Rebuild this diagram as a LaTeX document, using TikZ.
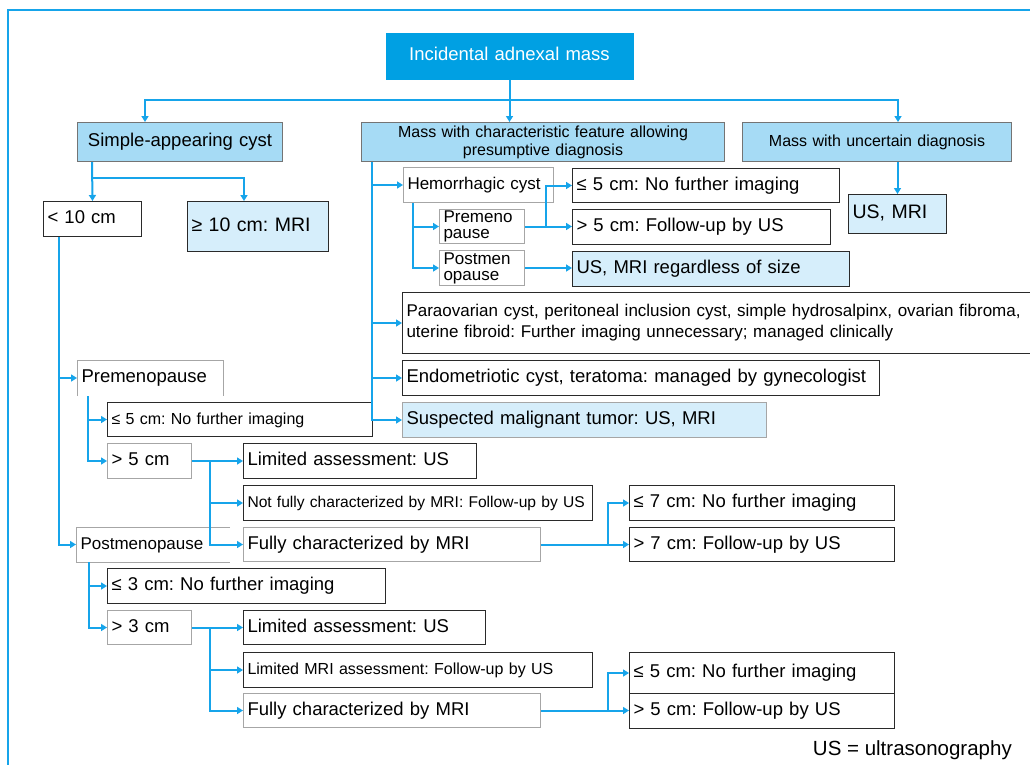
\documentclass[tikz,border=0pt]{standalone}
\usepackage{fontspec}
\setmainfont{Liberation Sans}
\usepackage{tikz}
\usetikzlibrary{arrows.meta,positioning,calc}
\frenchspacing
\definecolor{head}{HTML}{00A0E3}
\definecolor{branch}{HTML}{A6DBF5}
\definecolor{result}{HTML}{D6EEFB}
\definecolor{flow}{HTML}{16A4EA}
\definecolor{rim}{HTML}{2A2A2A}
\definecolor{soft}{HTML}{A6A6A6}
\tikzset{
  box/.style={draw=rim, line width=1pt, fill=white, inner xsep=4pt, inner ysep=0pt, align=left,
    text height=13, text depth=4, font=\fontsize{18.5}{21}\selectfont},
  light/.style={draw=soft},
  hit/.style={fill=result},
  group/.style={box, fill=branch, draw=soft!70!black, align=center},
  big/.style={font=\fontsize{19.5}{22}\selectfont},
  small/.style={font=\fontsize{16}{18}\selectfont},
  mid/.style={font=\fontsize{17}{21}\selectfont},
  tight/.style={font=\fontsize{17}{16}\selectfont},
  twoline/.style={text height=, text depth=},
  wire/.style={draw=flow, line width=2pt},
  arr/.style={wire, -{Triangle[length=6pt,width=7pt]}},
  outline/.style={draw=soft, line width=1pt},
}
\newcommand{\bx}[6][]{\node[box, #1, anchor=north west, minimum width=#4, minimum height=#5, text width=#4-8] (#2) at (#3) {#6};}

\begin{document}
\begin{tikzpicture}[x=1pt,y=-1pt]
  \useasboundingbox (0,0) rectangle (1030,764);
  \draw[wire] (8,780) -- (8,10) -- (1040,10);

  \bx[draw=none, fill=head, text=white, align=center]{top}{385,32}{248}{47}{Incidental adnexal mass}
  \bx[group]{simple}{77,122}{205}{39}{Simple-appearing cyst}
  \bx[group, small, twoline]{mchar}{361,122}{363}{39}{Mass with characteristic feature allowing\\presumptive diagnosis}
  \bx[group, small]{muncert}{742,122}{269}{39}{Mass with uncertain diagnosis}
  \bx[hit, big]{usmri}{848,194}{98}{39}{US, MRI}
  \bx{lt10}{43,201}{98}{35}{< 10 cm}
  \bx[hit, big]{ge10}{187,201}{141}{50}{≥ 10 cm: MRI}

  \bx[light, mid]{hemo}{403,167}{150}{35}{Hemorrhagic cyst}
  \bx{hle5}{572,168}{267}{34}{≤ 5 cm: No further imaging}
  \bx{hgt5}{572,209}{258}{35}{> 5 cm: Follow-up by US}
  \bx[light, tight, twoline]{hpre}{439,209}{85}{34}{Premeno\\pause}
  \bx[light, tight, twoline]{hpost}{439,250}{85}{35}{Postmen\\opause}
  \bx[hit]{hres}{572,251}{277}{35}{US, MRI regardless of size}
  \bx[mid, twoline]{para}{402,292}{630}{61}{Paraovarian cyst, peritoneal inclusion cyst, simple hydrosalpinx, ovarian fibroma,\\uterine fibroid: Further imaging unnecessary; managed clinically}
  \bx{endo}{402,360}{477}{35}{Endometriotic cyst, teratoma: managed by gynecologist}
  \bx[hit, light]{susp}{402,402}{364}{35}{Suspected malignant tumor: US, MRI}

  \bx[draw=none]{prem}{77,360}{145}{35}{Premenopause}
  \bx[small]{ple5}{107,402}{265}{34}{≤ 5 cm: No further imaging}
  \bx[light]{pgt5}{107,443}{84}{35}{> 5 cm}
  \bx{plim}{243,443}{233}{35}{Limited assessment: US}
  \bx[font=\fontsize{15.6}{18}\selectfont]{pnot}{243,485}{349}{35}{Not fully characterized by MRI: Follow-up by US}
  \bx[light]{pfull}{243,527}{297}{34}{Fully characterized by MRI}
  \bx[draw=none, mid]{post}{76,527}{153}{34}{Postmenopause}
  \bx{qle3}{107,568}{278}{35}{≤ 3 cm: No further imaging}
  \bx[light]{qgt3}{107,610}{84}{34}{> 3 cm}
  \bx{qlim}{243,610}{242}{34}{Limited assessment: US}
  \bx[small]{qmri}{243,652}{349}{35}{Limited MRI assessment: Follow-up by US}
  \bx[light]{qfull}{243,693}{297}{34}{Fully characterized by MRI}

  \bx{r7le}{629,485}{265}{35}{≤ 7 cm: No further imaging}
  \bx{r7gt}{629,527}{265}{34}{> 7 cm: Follow-up by US}
  \bx{r5le}{629,652}{265}{41}{≤ 5 cm: No further imaging}
  \bx{r5gt}{629,693}{265}{35}{> 5 cm: Follow-up by US}

  \node[anchor=base east, inner sep=0pt, font=\fontsize{20.5}{23}\selectfont] (legend) at (1012,755) {US = ultrasonography};

  \draw[outline] (prem.south west) -- (prem.north west) -- (prem.north east) -- (prem.south east);
  \draw[outline] (post.north east) -- (post.north west) -- (post.south west) -- (post.south east);

  % top level
  \coordinate (bus) at (509,100);
  \draw[arr] (top.south) -- (top.south |- mchar.north);
  \draw[arr] (bus) -| ([xshift=68]simple.north west);
  \draw[arr] (bus) -| ([xshift=156]muncert.north west);
  \draw[arr] (muncert.south -| usmri.north) -- (usmri.north);

  % simple-appearing cyst
  \coordinate (sj) at (92,178);
  \draw[arr] ([xshift=15]simple.south west) -- (lt10.north);
  \draw[arr] (sj) -| ([xshift=57]ge10.north west);
  \draw[arr] ([xshift=16]lt10.south west) |- (prem.west);
  \draw[arr] ([xshift=16]lt10.south west) |- (post.west);

  \draw[arr] ([xshift=11]prem.south west) |- (ple5.west);
  \draw[arr] ([xshift=11]prem.south west) |- (pgt5.west);
  \draw[arr] (pgt5.east) -- (plim.west);
  \draw[arr] ([xshift=18]pgt5.east) |- (pnot.west);
  \draw[arr] ([xshift=18]pgt5.east) |- (pfull.west);
  \draw[arr] (pfull.east) -- (pfull.east -| r7gt.west);
  \draw[arr] ([xshift=67]pfull.east) |- (r7le.west);

  \draw[arr] ([xshift=13]post.south west) |- (qle3.west);
  \draw[arr] ([xshift=13]post.south west) |- (qgt3.west);
  \draw[arr] (qgt3.east) -- (qlim.west);
  \draw[arr] ([xshift=18]qgt3.east) |- (qmri.west);
  \draw[arr] ([xshift=18]qgt3.east) |- (qfull.west);
  \draw[arr] (qfull.east) -- (qfull.east -| r5gt.west);
  \draw[arr] ([xshift=67]qfull.east) |- (r5le.west);

  % characteristic feature
  \draw[arr] ([xshift=11]mchar.south west) |- (hemo.west);
  \draw[arr] ([xshift=11]mchar.south west) |- (para.west);
  \draw[arr] ([xshift=11]mchar.south west) |- (endo.west);
  \draw[arr] ([xshift=11]mchar.south west) |- (susp.west);
  \draw[arr] ([xshift=10]hemo.south west) |- (hpre.west);
  \draw[arr] ([xshift=10]hemo.south west) |- (hpost.west);
  \draw[arr] (hpre.east) -- (hpre.east -| hgt5.west);
  \draw[arr] ([xshift=21]hpre.east) |- (hle5.west);
  \draw[arr] (hpost.east) -- (hpost.east -| hres.west);
\end{tikzpicture}
\end{document}
